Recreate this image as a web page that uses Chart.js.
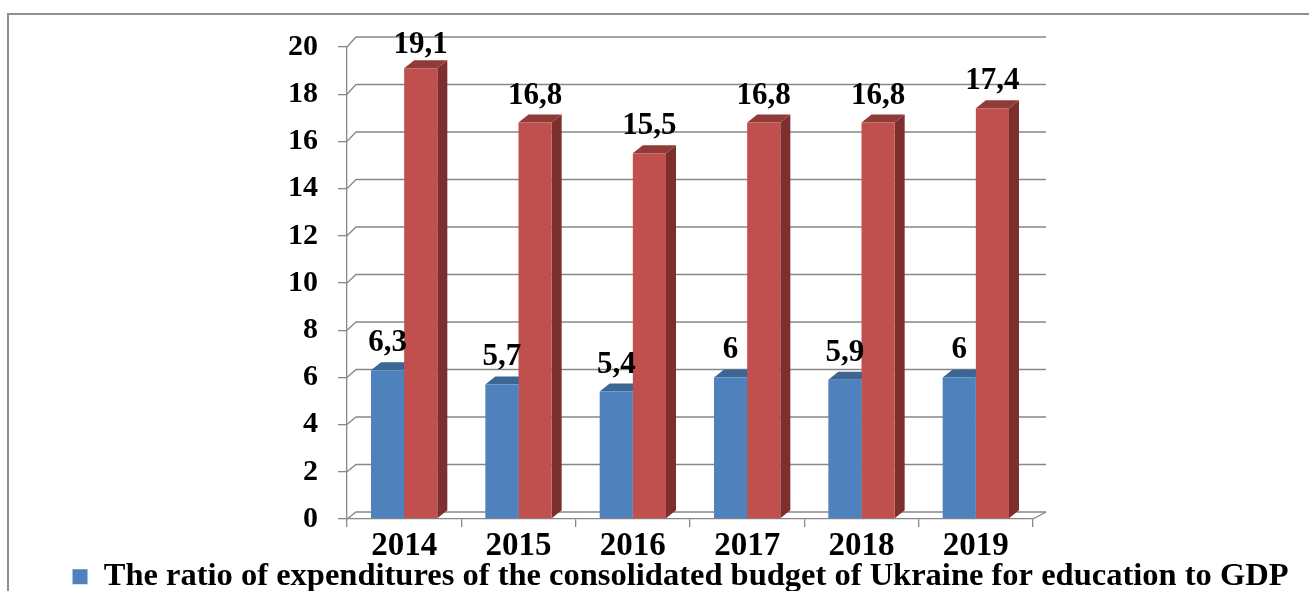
<!DOCTYPE html>
<html>
<head>
<meta charset="utf-8">
<script src="https://cdn.jsdelivr.net/npm/chart.js@4/dist/chart.umd.min.js"></script>
<style>
html,body{margin:0;padding:0;background:#fff;}
#wrap{width:1309px;height:591px;position:relative;}
</style>
</head>
<body>
<div id="wrap"><canvas id="c" width="1309" height="591"></canvas></div>
<script>
const years = ['2014', '2015', '2016', '2017', '2018', '2019'];
const gdpShare = [6.3, 5.7, 5.4, 6, 5.9, 6];
const budgetShare = [19.1, 16.8, 15.5, 16.8, 16.8, 17.4];
const seriesNames = [
  'The ratio of expenditures of the consolidated budget of Ukraine for education to GDP',
  'The share of expenditures for education in the consolidated budget of Ukraine'
];
const yTicks = [0, 2, 4, 6, 8, 10, 12, 14, 16, 18, 20];

const FONT = 'Liberation Serif';
const GRID = '#878787';
const frontColors = ['#4F81BD', '#C0504D'];
const topColors = ['#3C6795', '#913B39'];
const sideColors = ['#34597F', '#7C2F2E'];

function wallDy(fy, area) {
  const t = (area.bottom - fy) / (area.bottom - area.top);
  return 7 + 3 * t;
}

const backdrop = {
  id: 'backdrop',
  beforeDraw(chart) {
    const ctx = chart.ctx;
    ctx.save();
    ctx.fillStyle = '#fff';
    ctx.fillRect(0, 0, chart.width, chart.height);
    ctx.strokeStyle = '#8E8E8E';
    ctx.lineWidth = 2;
    ctx.beginPath();
    ctx.moveTo(8, chart.height + 2);
    ctx.lineTo(8, 14);
    ctx.lineTo(chart.width + 2, 14);
    ctx.stroke();
    ctx.restore();
  }
};

const walls = {
  id: 'walls',
  beforeDatasetsDraw(chart) {
    const ctx = chart.ctx;
    const a = chart.chartArea;
    const y = chart.scales.y;
    ctx.save();
    ctx.strokeStyle = GRID;
    ctx.lineWidth = 1.3;
    yTicks.forEach(v => {
      const fy = y.getPixelForValue(v);
      const d = wallDy(fy, a);
      ctx.beginPath();
      ctx.moveTo(a.left, fy);
      ctx.lineTo(a.left + 9, fy - d);
      ctx.lineTo(a.right + 13, fy - d);
      ctx.stroke();
    });
    const d0 = wallDy(a.bottom, a);
    ctx.beginPath();
    ctx.moveTo(a.right, a.bottom);
    ctx.lineTo(a.right + 13, a.bottom - d0);
    ctx.stroke();
    // 3D faces of the bars
    const dx = 10, dz = 8;
    chart.data.datasets.forEach((ds, di) => {
      const meta = chart.getDatasetMeta(di);
      meta.data.forEach(bar => {
        const L = bar.x - bar.width / 2, R = bar.x + bar.width / 2;
        const top = bar.y, base = bar.base;
        ctx.fillStyle = sideColors[di];
        ctx.beginPath();
        ctx.moveTo(R, top);
        ctx.lineTo(R + dx, top - dz);
        ctx.lineTo(R + dx, base - dz);
        ctx.lineTo(R, base);
        ctx.closePath();
        ctx.fill();
        ctx.fillStyle = topColors[di];
        ctx.beginPath();
        ctx.moveTo(L, top);
        ctx.lineTo(R, top);
        ctx.lineTo(R + dx, top - dz);
        ctx.lineTo(L + dx, top - dz);
        ctx.closePath();
        ctx.fill();
      });
    });
    ctx.restore();
  }
};

const valueLabels = {
  id: 'valueLabels',
  afterDatasetsDraw(chart) {
    const ctx = chart.ctx;
    const a = chart.chartArea;
    ctx.save();
    ctx.font = 'bold 31px "' + FONT + '"';
    ctx.fillStyle = '#000';
    ctx.textAlign = 'center';
    ctx.textBaseline = 'alphabetic';
    chart.data.datasets.forEach((ds, di) => {
      const meta = chart.getDatasetMeta(di);
      meta.data.forEach((bar, i) => {
        const txt = String(ds.data[i]).replace('.', ',');
        const yy = Math.max(bar.y - 19, a.top + 6);
        ctx.fillText(txt, bar.x, yy);
      });
    });
    ctx.restore();
  }
};

const yFont = { family: FONT, size: 30, weight: 'bold' };
const xFont = { family: FONT, size: 33, weight: 'bold' };
const legendFont = { family: FONT, size: 32.5, weight: 'bold' };

new Chart(document.getElementById('c'), {
  type: 'bar',
  data: {
    labels: years,
    datasets: [
      { label: seriesNames[0], data: gdpShare, backgroundColor: frontColors[0], categoryPercentage: 0.58, barPercentage: 1 },
      { label: seriesNames[1], data: budgetShare, backgroundColor: frontColors[1], categoryPercentage: 0.58, barPercentage: 1 }
    ]
  },
  options: {
    responsive: false,
    animation: false,
    layout: { padding: { left: 52, top: 47, right: 0, bottom: -12 } },
    plugins: {
      legend: {
        position: 'bottom',
        labels: {
          filter: item => item.datasetIndex === 0,
          boxWidth: 15,
          boxHeight: 15,
          padding: 1,
          color: '#000',
          font: legendFont
        }
      },
      tooltip: { enabled: false }
    },
    scales: {
      x: {
        grid: { display: true, drawOnChartArea: false, drawTicks: true, tickLength: 8, color: GRID, lineWidth: 1.3, offset: true },
        border: { display: true, color: GRID, width: 1.3 },
        ticks: { color: '#000', font: xFont, padding: 0, maxRotation: 0 },
        afterFit(s) { s.height = 40.5; }
      },
      y: {
        min: 0, max: 20,
        afterBuildTicks(s) { s.ticks = yTicks.map(v => ({ value: v })); },
        grid: { display: true, drawOnChartArea: false, drawTicks: true, tickLength: 9, color: GRID, lineWidth: 1.3 },
        border: { display: true, color: GRID, width: 1.3 },
        ticks: { color: '#000', font: yFont, padding: 20 },
        afterFit(s) { s.width = 295; }
      },
      y2: {
        position: 'right',
        display: true,
        grid: { display: false },
        border: { display: false },
        ticks: { display: false },
        afterFit(s) { s.width = 276; }
      }
    }
  },
  plugins: [backdrop, walls, valueLabels]
});
</script>
</body>
</html>
